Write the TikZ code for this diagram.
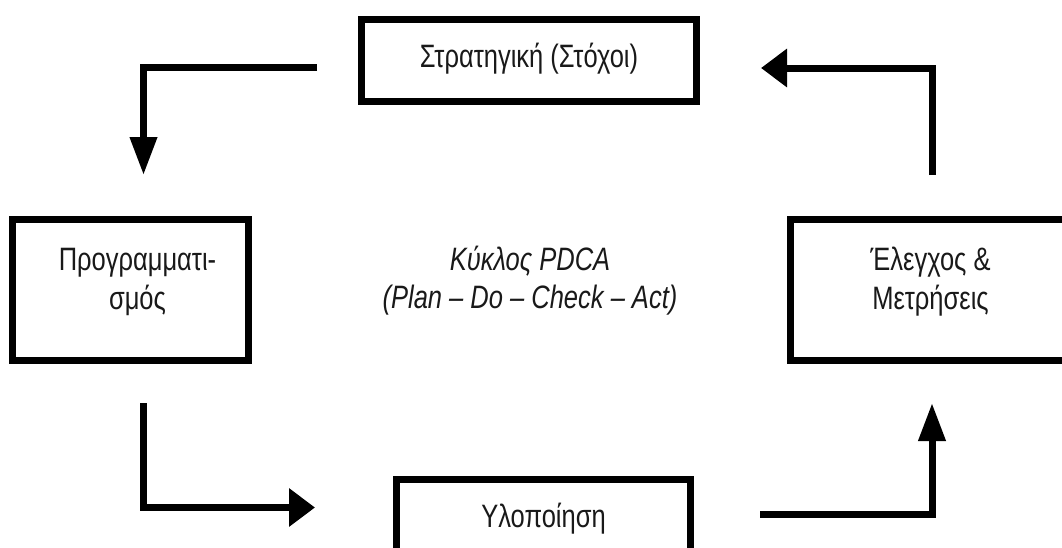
\documentclass[tikz,border=0pt]{standalone}
\usepackage{graphicx}
\usepackage{fontspec}
\setmainfont{Liberation Sans}
\usetikzlibrary{arrows.meta}

% text in these boxes is set tall and narrow; the optional argument
% moves a line off its baseline without changing the line's size
\newcommand{\tallline}[2][0pt]{\raisebox{#1}[0pt][0pt]{\scalebox{1}[1.27]{#2}}}

\begin{document}
\begin{tikzpicture}[x=1pt, y=-1pt,
  stepbox/.style={draw=black, line width=7pt, fill=white, inner sep=0pt,
    align=center, font=\fontsize{25.5}{39}\selectfont, text=black!90},
  cycletext/.style={align=center, inner sep=0pt,
    font=\fontsize{25.5}{38.5}\selectfont\itshape, text=black!90},
  flow/.style={draw=black, line width=7pt, line join=miter},
  hflow/.style={flow, -{Triangle[length=26pt, width=37pt]}},
  vflow/.style={flow, -{Triangle[length=38pt, width=26pt]}}
]
\useasboundingbox (0,0) rectangle (1062,547);
\clip (0,0) rectangle (1062,547);
\fill[white] (0,0) rectangle (1062,547);

% the four stages of the cycle
\node[stepbox, minimum width=335pt, minimum height=82pt] (plan) at (529,60)
  {\tallline[-7pt]{Στρατηγική (Στόχοι)}};
\node[stepbox, minimum width=236pt, minimum height=141pt] (prog) at (130.5,290)
  {\hspace*{14pt}\tallline{Προγραμματι-}\\\hspace*{14pt}\tallline{σμός}};
\node[stepbox, minimum width=280pt, minimum height=141pt] (check) at (930.5,290)
  {\tallline{Έλεγχος \&}\\\tallline{Μετρήσεις}};
\node[stepbox, minimum width=294pt, minimum height=80pt] (do) at (543.5,519)
  {\tallline[-8.5pt]{Υλοποίηση}};

% title in the middle
\node[cycletext] (title) at (530,289.5)
  {\tallline{Κύκλος PDCA}\\\tallline{(Plan – Do – Check – Act)}};

% free ends of the connectors
\coordinate (s1) at (317,67.5);
\coordinate (e1) at (143.5,175);
\coordinate (s2) at (932,175);
\coordinate (e2) at (761,68);
\coordinate (s3) at (143.5,403);
\coordinate (e3) at (315,507.5);
\coordinate (s4) at (760,514.5);
\coordinate (e4) at (932,403);

% connectors running clockwise round the cycle
\draw[vflow] (s1) -| (e1);
\draw[hflow] (s2) |- (e2);
\draw[hflow] (s3) |- (e3);
\draw[vflow] (s4) -| (e4);
\end{tikzpicture}
\end{document}
